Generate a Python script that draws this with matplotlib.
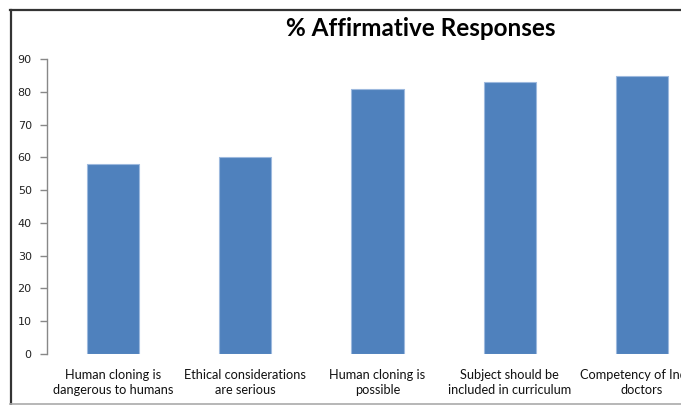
import matplotlib
matplotlib.use("Agg")
import matplotlib.pyplot as plt
from matplotlib.lines import Line2D

categories = ["Human cloning is\ndangerous to humans",
              "Ethical considerations\nare serious",
              "Human cloning is\npossible",
              "Subject should be\nincluded in curriculum",
              "Competency of Indian\ndoctors"]
values = [58, 60, 81, 83, 85]
yticks = [0, 10, 20, 30, 40, 50, 60, 70, 80, 90]

W, H = 681, 405
fig = plt.figure(figsize=(W / 100, H / 100), dpi=100)

# axes run past the right edge, the source picture is cropped there
ax = fig.add_axes([47 / W, 51.3 / H, (708 - 47) / W, (353.7 - 59.3) / H])
ax.bar(range(len(values)), values, width=0.395, color="#4F81BD",
       edgecolor="#9DB9DE", linewidth=0.8, zorder=2)

ax.set_xlim(-0.5, len(values) - 0.5)
ax.set_ylim(0, 90)
ax.set_yticks(yticks)
ax.set_yticklabels([str(t) for t in yticks], fontsize=8, family="DejaVu Sans",
                   color="#222222")
ax.set_xticks(range(len(values)))
ax.set_xticklabels(categories, fontsize=9.2, family="Lato", color="#111111",
                   linespacing=1.35)
ax.tick_params(axis="x", length=0, pad=11)
ax.tick_params(axis="y", length=5, width=1, color="#888888", pad=6, direction="out")
for s in ["top", "right", "bottom"]:
    ax.spines[s].set_visible(False)
ax.spines["left"].set_color("#888888")
ax.spines["left"].set_linewidth(1)

fig.text(421 / W, 1 - 28 / H, "% Affirmative Responses", ha="center", va="center",
         fontsize=17.5, fontweight="bold", family="Lato", color="#000000")

# chart frame (top/left dark, bottom light)
fig.add_artist(Line2D([10 / W, 1.0], [1 - 10 / H, 1 - 10 / H], color="#333333", lw=1.6,
                      transform=fig.transFigure))
fig.add_artist(Line2D([10.5 / W, 10.5 / W], [1 - 10 / H, 0], color="#333333", lw=1.6,
                      transform=fig.transFigure))
fig.add_artist(Line2D([10 / W, 1.0], [1 - 403.5 / H, 1 - 403.5 / H], color="#AAAAAA",
                      lw=1.2, transform=fig.transFigure))

fig.savefig("out.png", dpi=100)
